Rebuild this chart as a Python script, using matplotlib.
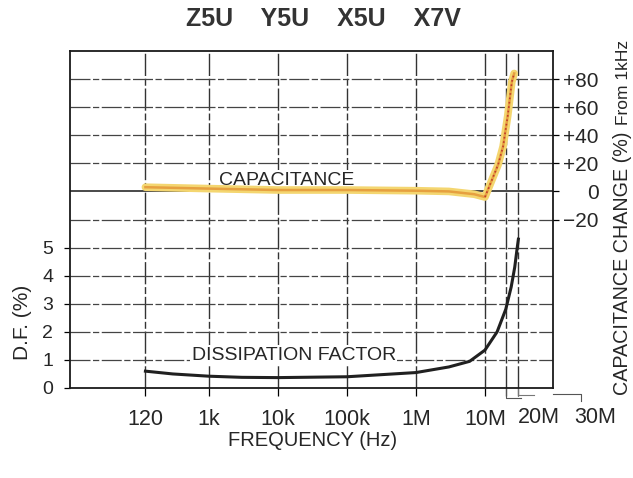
import numpy as np
import matplotlib.pyplot as plt

plt.rcParams['font.family'] = ['Liberation Sans', 'DejaVu Sans']

# dissipation factor (%) vs frequency (Hz)
df_freq = [120, 300, 1e3, 3e3, 1e4, 1e5, 1e6, 3e6, 6e6, 1e7, 1.5e7, 2e7, 2.4e7, 2.7e7, 2.9e7, 3.05e7]
df_vals = [0.6, 0.5, 0.42, 0.38, 0.37, 0.4, 0.55, 0.75, 0.95, 1.35, 2.0, 2.8, 3.6, 4.3, 4.9, 5.3]

# capacitance change (%) from 1kHz vs frequency (Hz)
cap_freq = [120, 1e3, 1e4, 1e5, 1e6, 3e6, 7e6, 1e7, 1.55e7, 1.83e7, 2.14e7, 2.45e7, 2.65e7]
cap_vals = [3, 2, 1, 1, 0.5, 0, -2, -4, 19, 32, 54, 78, 84]

grid_freq = [120, 1e3, 1e4, 1e5, 1e6, 1e7, 2e7, 3e7]
x_labels = ['120', '1k', '10k', '100k', '1M', '10M', '', '']
df_ticks = [0, 1, 2, 3, 4, 5]
cap_ticks = [-20, 0, 20, 40, 60, 80]
cap_labels = ['\u221220', '0', '+20', '+40', '+60', '+80']

ink = '#262626'
fig = plt.figure(figsize=(6.33, 4.78), dpi=100)
ax = fig.add_axes([70/633, 1 - 388/478, 483/633, 337/478])
ax.set_xscale('log')
ax.set_xlim(10**0.986, 10**7.986)
ax.set_ylim(0, 12)

# broken-looking grid like a printed chart
gls = (0, (16, 2, 5, 2))
for f in grid_freq:
    ax.axvline(f, color='#333333', lw=1.0, ls=gls, zorder=1)
for y in range(1, 12):
    if y == 7:
        ax.axhline(y, color='#2a2a2a', lw=1.2, zorder=1)
    else:
        ax.axhline(y, color='#444444', lw=0.9, ls=gls, zorder=1)

for s in ax.spines.values():
    s.set_linewidth(1.3)
    s.set_color('#1a1a1a')

ax.set_xticks(grid_freq)
ax.set_xticklabels(x_labels, fontsize=15.5, color=ink)
ax.xaxis.set_minor_locator(plt.NullLocator())
ax.tick_params(axis='x', length=6, width=0.9, pad=9, direction='out')
ax.set_yticks(df_ticks)
ax.set_yticklabels([str(v) for v in df_ticks], fontsize=14, color=ink)
ax.tick_params(axis='y', length=4, width=0.9, pad=8, direction='out')

# shifted labels for 20M / 30M with leader lines
xt = ax.get_xaxis_transform()
ax.text(6.1e7, -0.056, '20M', transform=xt, ha='center', va='top', fontsize=15.5, color=ink)
ax.text(3.9e8, -0.056, '30M', transform=xt, ha='center', va='top', fontsize=15.5, color=ink)
ax.plot([2e7, 2e7, 3.3e7], [0, -0.36, -0.36], color='#555', lw=0.8, clip_on=False)
ax.plot([3e7, 3e7, 5.2e7], [0, -0.25, -0.25], color='#777', lw=0.8, clip_on=False)
ax.plot([9.7e7, 2.5e8, 2.5e8], [-0.2, -0.2, -0.45], color='#555', lw=0.8, clip_on=False)

# dissipation factor curve
ax.plot(df_freq, df_vals, color='#202020', lw=2.2, zorder=4)

ax2 = ax.twinx()
ax2.set_ylim(-140, 100)
ax2.set_yticks(cap_ticks)
ax2.set_yticklabels(cap_labels, fontsize=15, color=ink, ha='right')
ax2.tick_params(axis='y', length=4, width=0.9, pad=28.8, direction='out')
for s in ax2.spines.values():
    s.set_visible(False)

# capacitance curve
ax2.plot(cap_freq, cap_vals, color='#f4d670', lw=5.5, solid_capstyle='round', zorder=3)
ax2.plot(cap_freq, cap_vals, color='#e6a040', lw=1.8, zorder=4)
ax2.plot(cap_freq[7:], cap_vals[7:], color='#c0392b', lw=1.2, ls=':', zorder=5)

ax.text(1.35e4, 7.4, 'CAPACITANCE', fontsize=14, color=ink, ha='center', va='center',
        zorder=6, bbox=dict(fc='white', ec='none', pad=1))
ax.text(1.7e4, 1.17, 'DISSIPATION FACTOR', fontsize=14, color=ink, ha='center', va='center',
        zorder=6, bbox=dict(fc='white', ec='none', pad=1))

fig.text(323/633, 1 - 19/478, 'Z5U    Y5U    X5U    X7V', fontsize=18, fontweight='bold',
         color='#333', ha='center', va='center')
fig.text(313/633, 1 - 440/478, 'FREQUENCY (Hz)', fontsize=14.5, color=ink, ha='center', va='center')
fig.text(23/633, 1 - 322/478, 'D.F. (%)', fontsize=15, color=ink, rotation=90, ha='center', va='center')
fig.text(623/633, 1 - 395/478, 'CAPACITANCE CHANGE (%)', fontsize=14.2, color=ink,
         rotation=90, ha='center', va='bottom')
fig.text(623/633, 1 - 40/478, 'From 1kHz', fontsize=12.5, color=ink,
         rotation=90, ha='center', va='top')

fig.savefig('out.png', dpi=100)
